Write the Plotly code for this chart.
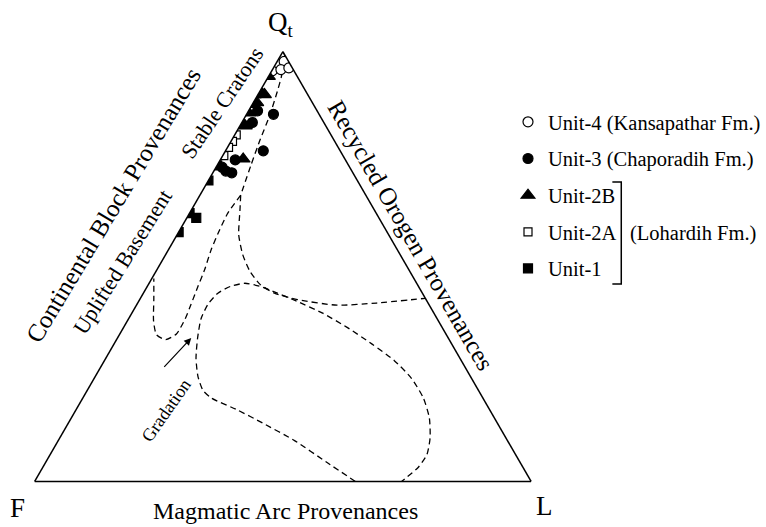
import plotly.graph_objects as go

# ---- sample compositions (Qt, L in %; F = 100 - Qt - L) ----
unit4_q = [98.8, 97.3, 97.7, 95.5, 95.8, 96.2]
unit4_l = [0.0, 0.0, 1.4, 0.1, 1.7, 3.1]

unit3_q = [90.4, 86.2, 85.4, 83.5, 76.9, 74.8, 73.1, 72.2, 71.8]
unit3_l = [0.2, 1.8, 5.4, 2.1, 7.6, 3.0, 1.2, 2.4, 3.8]

unit2b_q = [94.2, 90.0, 88.1, 87.7, 85.7, 83.5, 82.7, 75.0]
unit2b_l = [0.0, 1.3, 0.7, 0.0, 0.3, 0.0, 1.1, 4.5]

unit2a_q = [80.6, 79.1, 77.7, 75.8]
unit2a_l = [0.3, 0.3, 0.2, 0.2]

unit1_q = [73.5, 70.0, 62.4, 61.3, 58.0]
unit1_l = [0.0, 0.0, 0.0, 1.9, 0.0]

# ---- provenance field boundaries (Qt, L in %) ----
craton_q = [97.5, 94.9, 90.8, 85.0, 79.3, 73.5, 66.6]
craton_l = [1.3, 2.4, 3.5, 4.8, 5.7, 6.8, 8.2]

basement_q = [66.6, 62.4, 58.5, 53.9, 49.3, 45.4, 41.2, 37.8, 34.3, 33.0, 34.1, 37.3, 42.4, 47.2]
basement_l = [8.2, 7.7, 8.0, 8.6, 9.6, 10.2, 10.9, 11.4, 11.4, 9.9, 7.5, 5.3, 2.8, 0.4]

recycled_q = [66.6, 63.1, 57.4, 52.8, 48.9, 45.9, 43.8, 42.3, 41.0, 41.5, 42.6]
recycled_l = [8.2, 9.8, 12.4, 15.5, 18.9, 22.4, 26.4, 31.8, 40.4, 48.1, 57.4]

arc_q = [0.0, 4.4, 9.5, 13.6, 16.6, 19.4, 21.2, 24.4, 28.6, 33.2, 37.8, 41.2, 43.8, 45.4,
         46.1, 45.4, 43.8, 41.9, 39.2, 35.9, 32.0, 28.1, 24.0, 19.4, 14.8, 10.1, 6.2, 3.2, 0.0]
arc_l = [64.6, 56.7, 47.6, 39.1, 32.6, 25.9, 23.3, 20.7, 18.2, 16.2, 14.6, 14.3, 15.0, 16.8,
         19.3, 22.6, 27.0, 31.9, 38.3, 44.9, 51.9, 58.4, 63.9, 68.6, 72.1, 74.6, 75.9, 75.6, 73.9]

SERIF = "Liberation Serif"
W, H = 766, 527


def feld(q, l):
    return [round(100 - a - c, 3) for a, c in zip(q, l)]


fig = go.Figure()

for bq, bl in [(craton_q, craton_l), (basement_q, basement_l),
               (recycled_q, recycled_l), (arc_q, arc_l)]:
    fig.add_trace(go.Scatterternary(
        a=bq, b=feld(bq, bl), c=bl, mode="lines", showlegend=False,
        line=dict(color="black", width=1.3, dash="6px,4px", shape="spline", smoothing=0.6),
        hoverinfo="skip"))

series = [
    ("Unit-4 (Kansapathar Fm.)", unit4_q, unit4_l, "circle", "white", 10),
    ("Unit-3 (Chaporadih Fm.)", unit3_q, unit3_l, "circle", "black", 10),
    ("Unit-2B", unit2b_q, unit2b_l, "triangle-up", "black", 12),
    ("Unit-2A", unit2a_q, unit2a_l, "square", "white", 8),
    ("Unit-1", unit1_q, unit1_l, "square", "black", 9),
]
for i, (name, q, l, sym, fill, size) in enumerate(series):
    fig.add_trace(go.Scatterternary(
        a=q, b=feld(q, l), c=l, mode="markers", name=name,
        legendgroup=name, legendrank=i + 1,
        marker=dict(symbol=sym, size=size, color=fill,
                    line=dict(color="black", width=1.2))))

axis_style = dict(showgrid=False, showticklabels=False, ticks="", showline=True,
                  linecolor="black", linewidth=1.5, title=dict(text=""), min=0)

fig.update_layout(
    width=W, height=H, autosize=False,
    margin=dict(l=0, r=0, t=0, b=0),
    paper_bgcolor="white",
    font=dict(family=SERIF, color="black"),
    ternary=dict(
        sum=100,
        domain=dict(x=[35 / W, 536 / W], y=[(H - 483) / H, (H - 50) / H]),
        bgcolor="white",
        aaxis=axis_style, baxis=axis_style, caxis=axis_style,
    ),
    legend=dict(x=513 / W, y=1 - 102 / H, xanchor="left", yanchor="top",
                font=dict(family=SERIF, size=20.5, color="black"),
                traceorder="grouped", tracegroupgap=7,
                bgcolor="rgba(0,0,0,0)"),
)


def px_note(text, x, y, size, angle=0, anchor="center"):
    fig.add_annotation(text=text, x=x / W, y=1 - y / H, xref="paper", yref="paper",
                       showarrow=False, textangle=angle, xanchor=anchor, yanchor="middle",
                       font=dict(family=SERIF, size=size, color="black"))


px_note("Q<sub>t</sub>", 284, 24, 27)
px_note("F", 18, 508, 27)
px_note("L", 550, 506, 27)
px_note("Magmatic Arc Provenances", 288, 511, 24)
px_note("Continental Block Provenances", 115, 205, 25, -59)
px_note("Uplifted Basement", 124, 262, 22, -58)
px_note("Stable Cratons", 224, 102, 22, -56)
px_note("Recycled Orogen Provenances", 415, 235, 25, 60)
px_note("Gradation", 168, 410, 18, -55)
px_note("(Lohardih Fm.)", 634, 233, 20.5, 0, "left")

# arrow pointing from the gradation label toward the arc field
fig.add_annotation(x=193 / W, y=1 - 338 / H, xref="paper", yref="paper",
                   ax=-30, ay=32, axref="pixel", ayref="pixel", text=" ",
                   showarrow=True, arrowhead=2, arrowsize=1.2, arrowwidth=1.2,
                   arrowcolor="black")

# bracket grouping the Lohardih Formation units
fig.add_shape(type="path", xref="paper", yref="paper",
              path=f"M {618 / W},{1 - 182 / H} L {627 / W},{1 - 182 / H} "
                   f"L {627 / W},{1 - 284 / H} L {618 / W},{1 - 284 / H}",
              line=dict(color="black", width=1.5))

fig.write_html("out.html")
